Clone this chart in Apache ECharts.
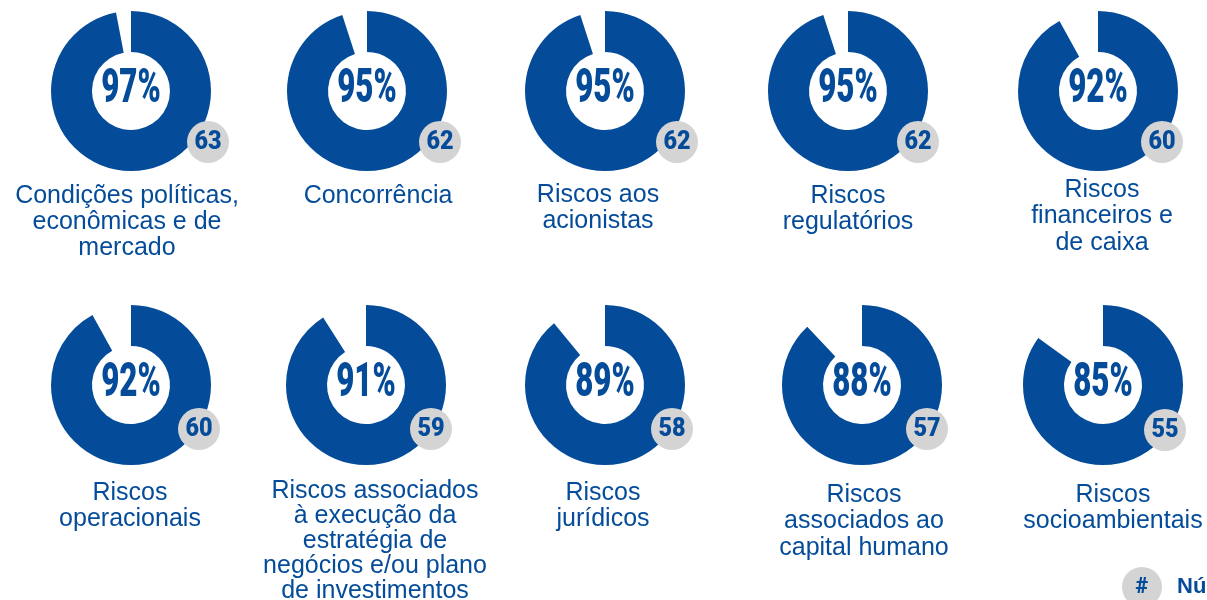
<!DOCTYPE html>
<html>
<head>
<meta charset="utf-8">
<script src="https://cdn.jsdelivr.net/npm/echarts@6/dist/echarts.min.js"></script>
<style>
html,body{margin:0;padding:0;background:#fff;}
#c{width:1207px;height:600px;}
</style>
</head>
<body>
<div id="c"></div>
<script>
// ---- data ----
var categories = [
  "Condições políticas,\neconômicas e de\nmercado",
  "Concorrência",
  "Riscos aos\nacionistas",
  "Riscos\nregulatórios",
  "Riscos\nfinanceiros e\nde caixa",
  "Riscos\noperacionais",
  "Riscos associados\nà execução da\nestratégia de\nnegócios e/ou plano\nde investimentos",
  "Riscos\njurídicos",
  "Riscos\nassociados ao\ncapital humano",
  "Riscos\nsocioambientais"
];
var percentages = [97, 95, 95, 95, 92, 92, 91, 89, 88, 85];
var counts = [63, 62, 62, 62, 60, 60, 59, 58, 57, 55];
var legendSymbol = "#";
var legendText = "Número de respostas";

// ---- layout ----
var centerX = [131, 367, 605, 848, 1098, 131, 366, 605, 862, 1103];
var centerY = [91, 91, 91, 91, 91, 385, 385, 385, 385, 385];
var badgeX = [208, 440, 677, 918, 1162, 199, 431, 672, 927, 1165];
var badgeY = [142, 142, 142, 142, 142, 429, 429, 429, 429, 430];
var labelX = [127, 378, 598, 848, 1102, 130, 375, 603, 864, 1113];
var labelY = [196, 196, 195, 196, 190, 493, 491, 493, 495, 495];
var labelLH = [26, 26, 26, 26, 26.5, 26, 25, 26, 26.5, 26];

var BLUE = '#044c9a';
var GREY = '#d4d4d4';

var series = [];
var graphics = [];
for (var i = 0; i < percentages.length; i++) {
  series.push({
    type: 'pie',
    center: [centerX[i], centerY[i]],
    radius: [39, 80],
    startAngle: 90,
    clockwise: true,
    silent: true,
    animation: false,
    label: {show: false},
    labelLine: {show: false},
    emphasis: {disabled: true},
    itemStyle: {borderWidth: 0},
    data: [
      {value: percentages[i], name: categories[i], itemStyle: {color: BLUE}},
      {value: 100 - percentages[i], name: 'rest', itemStyle: {color: 'rgba(0,0,0,0)'}}
    ]
  });
  graphics.push({
    type: 'text', z: 100, x: centerX[i], y: centerY[i] - 1, scaleX: 0.64,
    style: {text: percentages[i] + '%', font: '900 49px Roboto', fill: BLUE,
            textAlign: 'center', textVerticalAlign: 'middle'}
  });
  graphics.push({
    type: 'circle', z: 100, shape: {cx: badgeX[i], cy: badgeY[i], r: 21},
    style: {fill: GREY}
  });
  graphics.push({
    type: 'text', z: 101, x: badgeX[i], y: badgeY[i], scaleX: 0.9,
    style: {text: String(counts[i]), font: '900 26px Roboto', fill: BLUE,
            textAlign: 'center', textVerticalAlign: 'middle'}
  });
  graphics.push({
    type: 'text', z: 100, x: labelX[i], y: labelY[i] - labelLH[i] / 2,
    style: {text: categories[i], font: '25px "Liberation Sans", Arial, sans-serif',
            fill: BLUE, textAlign: 'center', textVerticalAlign: 'top', lineHeight: labelLH[i]}
  });
}
// legend
graphics.push({type: 'circle', z: 100, shape: {cx: 1142, cy: 587, r: 20}, style: {fill: GREY}});
graphics.push({type: 'text', z: 101, x: 1142, y: 587, style: {text: legendSymbol, font: '900 22px Roboto', fill: BLUE, textAlign: 'center', textVerticalAlign: 'middle'}});
graphics.push({type: 'text', z: 101, x: 1177, y: 587, style: {text: legendText, font: 'bold 22px "Liberation Sans", Arial', fill: BLUE, textAlign: 'left', textVerticalAlign: 'middle'}});

var chart = echarts.init(document.getElementById('c'), null, {renderer: 'canvas'});
chart.setOption({
  animation: false,
  backgroundColor: '#ffffff',
  series: series,
  graphic: graphics
});
</script>
</body>
</html>
